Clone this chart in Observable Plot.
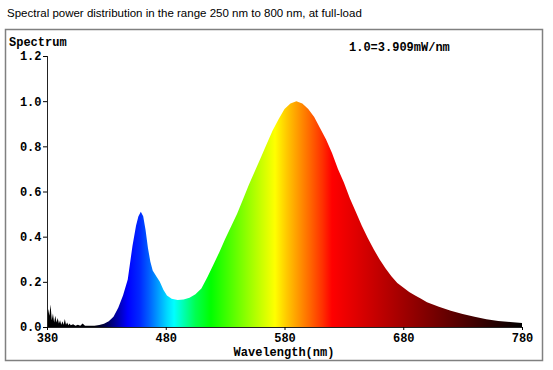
<!DOCTYPE html>
<html><head><meta charset="utf-8">
<script src="https://cdn.jsdelivr.net/npm/d3@7"></script>
<script src="https://cdn.jsdelivr.net/npm/@observablehq/plot@0.6"></script>
<style>body{margin:0;background:#fff}</style>
</head><body><div id="chart"></div>
<script>
// ---- data ----
const wavelengths = [380,381,382,383,384,385,386,387,388,389,390,391,392,393,394,395,396,397,398,399,400,
  402,404,406,408,410,412,414,416,418,420,424,428,432,436,440,444,448,452,455,457,459,461,463,465,467,469,
  472,475,478,481,485,490,495,500,505,510,515,520,525,530,535,540,545,550,555,560,565,570,575,580,585,590,
  595,600,605,610,615,620,625,630,635,640,645,650,655,660,665,670,675,680,685,690,695,700,710,720,730,740,
  750,760,770,780];
const power = [0.04,0.08,0.05,0.10,0.03,0.06,0.02,0.05,0.02,0.04,0.015,0.03,0.01,0.025,0.01,0.035,0.01,0.02,0.008,0.015,0.008,
  0.012,0.006,0.01,0.005,0.015,0.005,0.006,0.005,0.006,0.006,0.009,0.014,0.025,0.045,0.085,0.14,0.21,0.36,0.45,0.49,0.51,0.49,0.43,0.35,0.29,0.25,
  0.225,0.20,0.165,0.14,0.125,0.12,0.122,0.13,0.145,0.17,0.22,0.275,0.33,0.39,0.445,0.50,0.565,0.63,0.69,0.75,0.81,0.87,0.92,0.965,0.99,1.0,
  0.99,0.965,0.93,0.88,0.83,0.77,0.70,0.64,0.57,0.51,0.45,0.395,0.345,0.30,0.26,0.225,0.195,0.175,0.155,0.14,0.125,0.11,0.09,0.072,0.058,0.045,
  0.034,0.027,0.022,0.018];
const xTicks = [380, 480, 580, 680, 780];
const yTicks = [0, 0.2, 0.4, 0.6, 0.8, 1.0, 1.2];
const titleText = "Spectral power distribution in the range 250 nm to 800 nm, at full-load";
const yLabel = "Spectrum";
const xLabel = "Wavelength(nm)";
const scaleNote = "1.0=3.909mW/nm";

// ---- style: colour of light by wavelength ----
const gradientStops = [[380,"#000000"],[420,"#000008"],[430,"#000050"],[440,"#0000b0"],[448,"#0000ff"],[458,"#0028ff"],
  [466,"#0060ff"],[474,"#00a0ff"],[481,"#00d8ff"],[487,"#00ffff"],[495,"#00ffb0"],[505,"#00ff50"],[518,"#00ff00"],
  [535,"#50ff00"],[555,"#b0ff00"],[572,"#ffff00"],[582,"#ffc800"],[592,"#ff9600"],[602,"#ff6400"],[612,"#ff3000"],
  [620,"#ff0000"],[640,"#e00000"],[660,"#c00000"],[680,"#a00000"],[700,"#800000"],[720,"#600000"],[740,"#400000"],
  [760,"#200000"],[780,"#000000"]];

const data = wavelengths.map((w, i) => ({w, v: power[i]}));
const mono = "'Liberation Mono', 'Courier New', monospace";

const chart = Plot.plot({
  width: 553, height: 370,
  marginTop: 56, marginRight: 31, marginBottom: 43, marginLeft: 47,
  style: {background: "#fff", color: "#000", fontFamily: mono},
  x: {domain: [380, 780]},
  y: {domain: [0, 1.2]},
  marks: [
    Plot.areaY(data, {x: "w", y: "v", fill: "url(#specgrad)", curve: "linear"}),
    Plot.ruleX([380], {stroke: "#222"}),
    Plot.ruleY([0], {stroke: "#222"}),
    Plot.axisX({ticks: xTicks, tickSize: 3, tickPadding: 3, fontFamily: mono, fontSize: 12, fontWeight: "bold", label: null}),
    Plot.axisY({ticks: yTicks, tickSize: 4, tickPadding: 2, tickFormat: d3.format(".1f"), fontFamily: mono, fontSize: 12, fontWeight: "bold", label: null})
  ]
});

const svg = d3.select(chart);
const xs = chart.scale("x");
const grad = svg.insert("defs", ":first-child").append("linearGradient")
  .attr("id", "specgrad").attr("gradientUnits", "userSpaceOnUse")
  .attr("x1", xs.apply(380)).attr("x2", xs.apply(780)).attr("y1", 0).attr("y2", 0);
gradientStops.forEach(([w, c]) => grad.append("stop").attr("offset", (w - 380) / 400).attr("stop-color", c));

svg.append("rect").attr("x", 5.5).attr("y", 29.5).attr("width", 537).attr("height", 331)
  .attr("fill", "none").attr("stroke", "#808080").attr("stroke-width", 1.5);
const notes = svg.append("g").attr("text-anchor", "start").attr("fill", "#000");
notes.append("text").attr("x", 7).attr("y", 17).attr("font-family", "'Liberation Sans', Arial, sans-serif")
  .attr("font-size", 11.5).text(titleText);
notes.append("text").attr("x", 9).attr("y", 45.5).attr("font-size", 12).attr("font-weight", "bold").text(yLabel);
notes.append("text").attr("x", 349).attr("y", 51).attr("font-size", 12).attr("font-weight", "bold").text(scaleNote);
notes.append("text").attr("x", 284).attr("y", 356).attr("text-anchor", "middle").attr("font-size", 12).attr("font-weight", "bold").text(xLabel);

document.getElementById("chart").appendChild(chart);
</script>
</body></html>
